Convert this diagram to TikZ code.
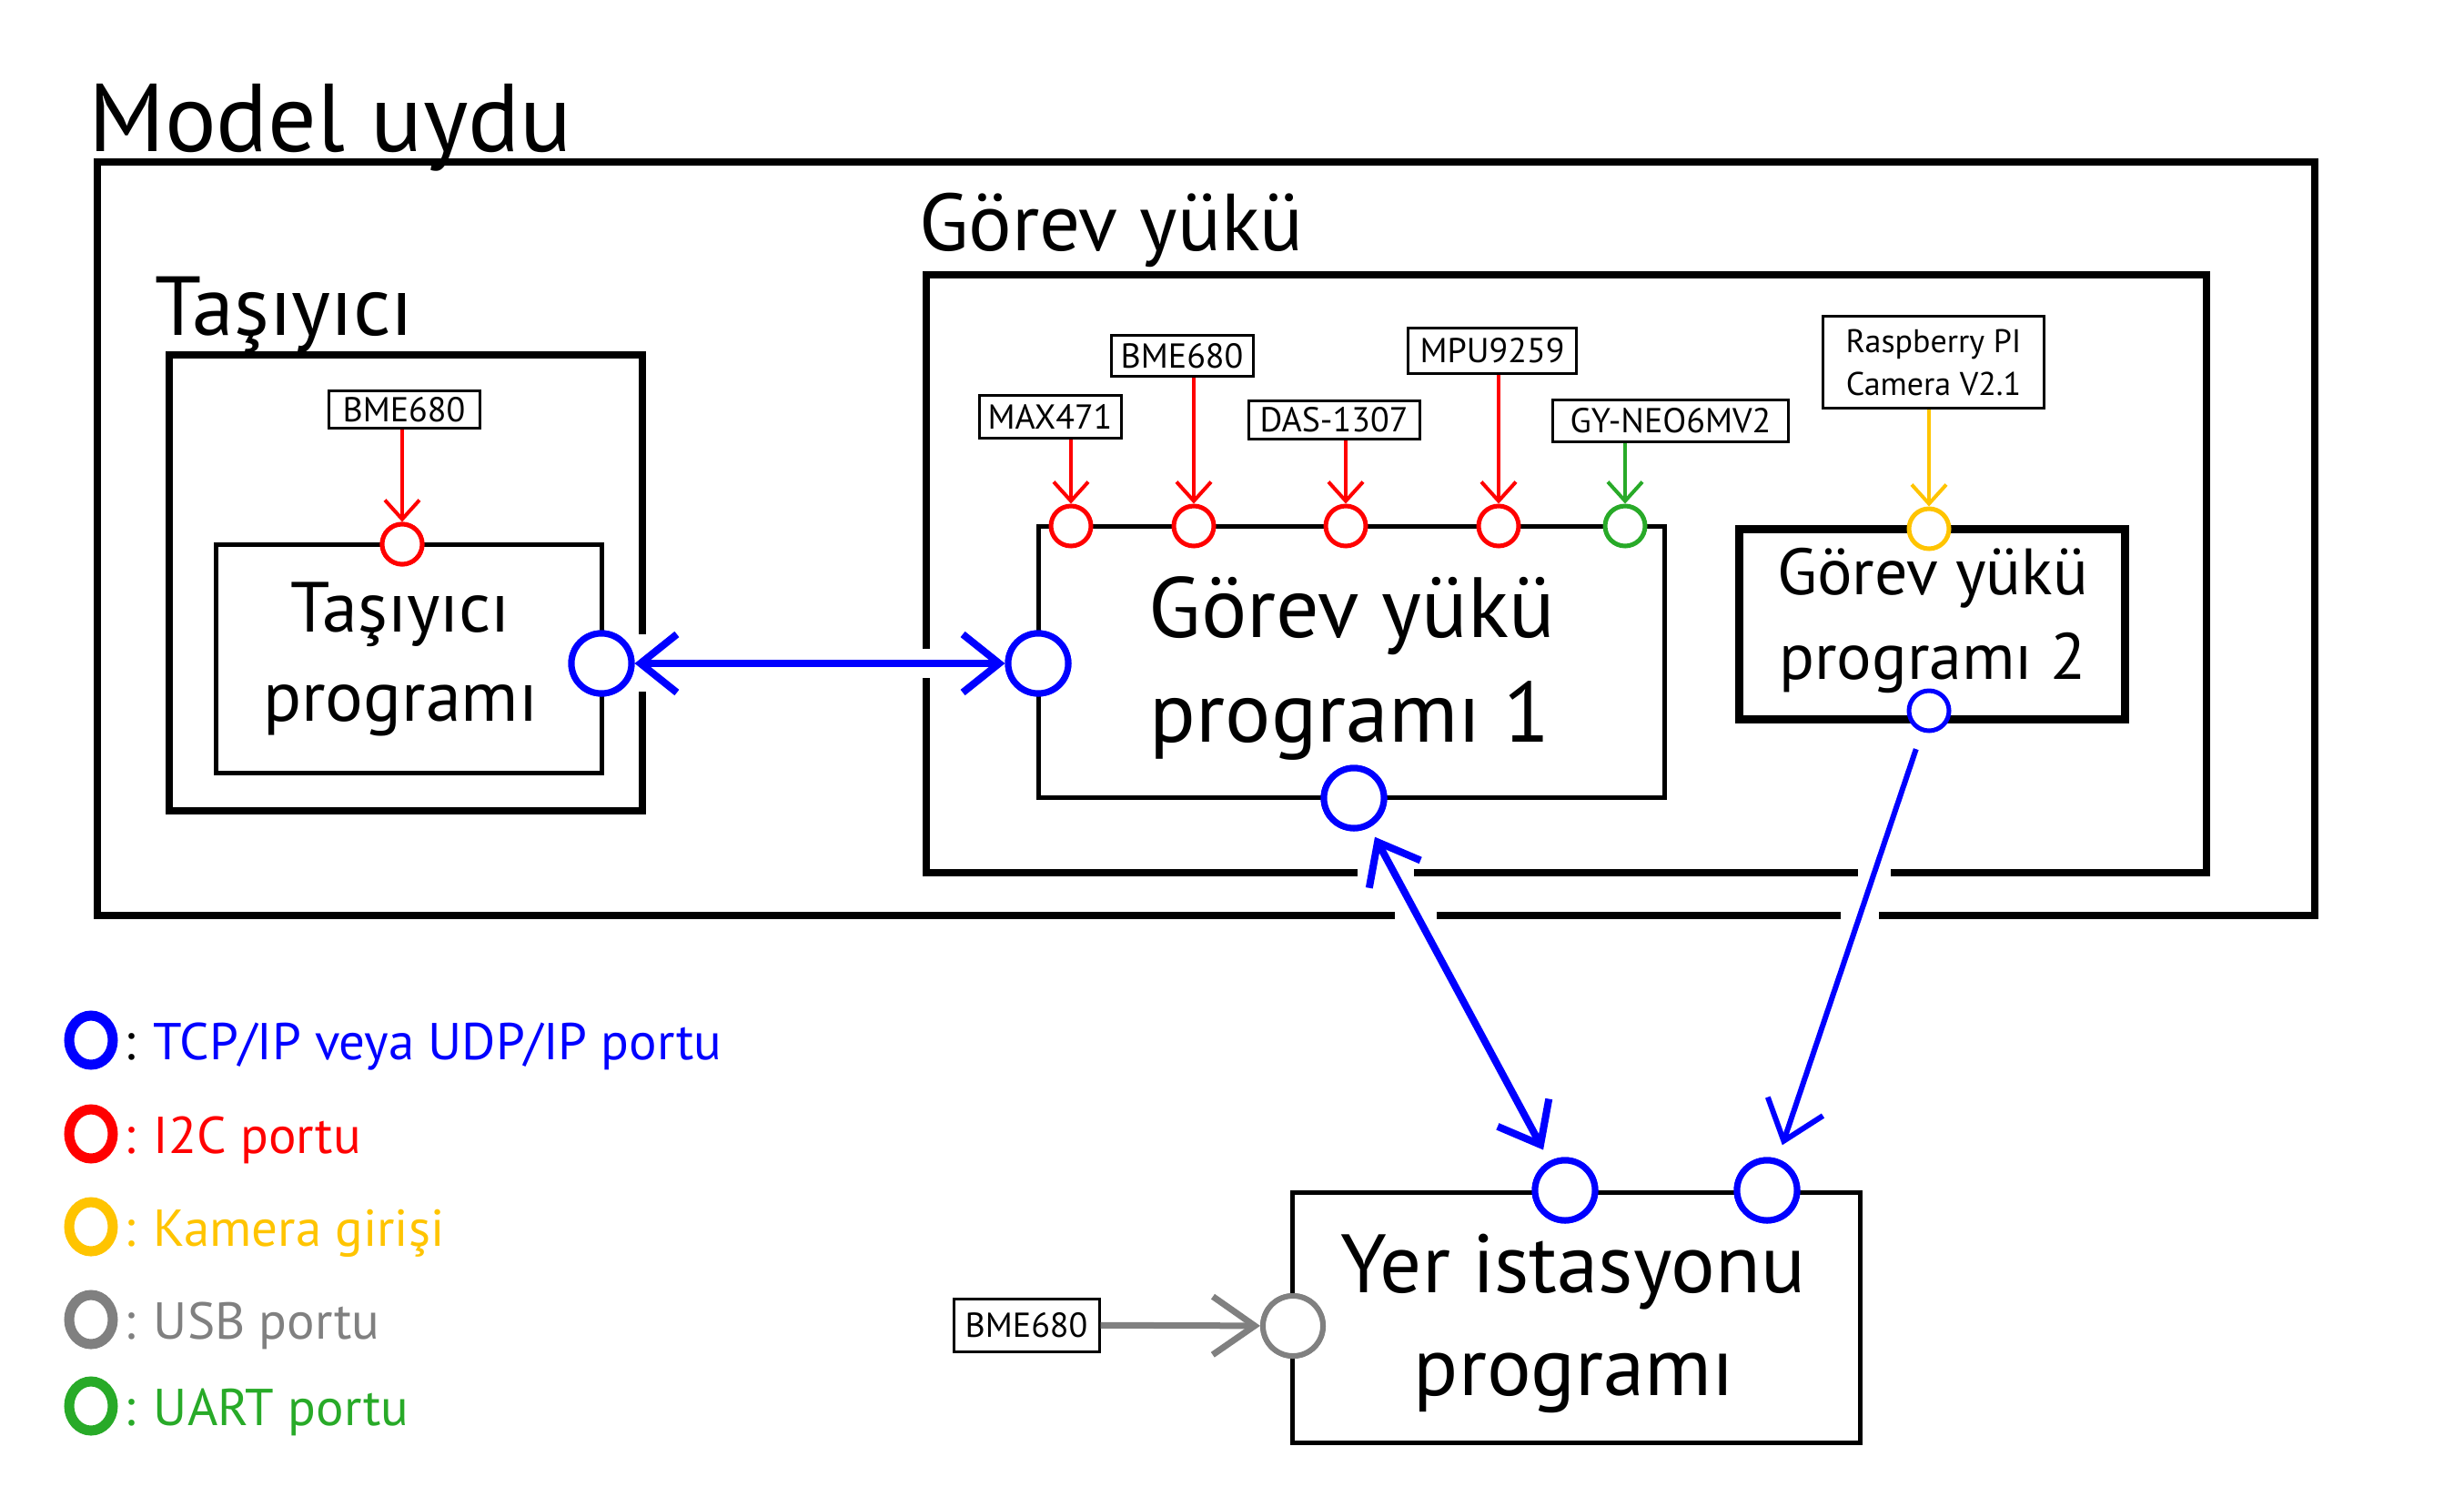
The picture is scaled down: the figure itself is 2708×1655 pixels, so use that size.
\documentclass[tikz,border=0pt]{standalone}
\usepackage{fontspec}
\setmainfont{PT Sans}
\usetikzlibrary{arrows.meta,calc,shapes.geometric}
\definecolor{cblue}{RGB}{0,0,255}
\definecolor{cred}{RGB}{255,0,0}
\definecolor{cyel}{RGB}{255,196,0}
\definecolor{cgray}{RGB}{128,128,128}
\definecolor{cgreen}{RGB}{40,170,40}
\newcommand{\fsz}[1]{\fontsize{#1}{#1}\selectfont}
\begin{document}
\begin{tikzpicture}[x=1pt,y=-1pt,
  Sb/.tip={Straight Barb[length=21pt,width=38pt]},
  Bb/.tip={Straight Barb[length=40pt,width=64pt]},
  Gb/.tip={Straight Barb[length=46pt,width=64pt]},
  frame/.style={draw, line width=8pt, line join=miter},
  progbox/.style={draw, line width=5pt, inner sep=0pt},
  sensor/.style={draw, line width=3pt, fill=white, inner sep=0pt, font=\fsz{38}},
  sport/.style={circle, draw, fill=white, inner sep=0pt, minimum size=44pt, line width=5pt},
  bport/.style={circle, draw, fill=white, inner sep=0pt, minimum size=66pt, line width=7pt},
  lgport/.style={ellipse, draw, inner sep=0pt, minimum width=48pt, minimum height=54pt, line width=11pt},
  lgtext/.style={anchor=base west, inner sep=0pt, font=\fsz{57}},
  title/.style={anchor=base west, inner sep=0pt},
  ptext/.style={anchor=base, inner sep=0pt},
  sens/.style={line width=4pt, -Sb},
  tcpline/.style={cblue, line width=8pt},
  gap/.style={fill=white}
]
\useasboundingbox (0,0) rectangle (2708,1655);

% titles
\node[title, font=\fsz{106}] (tmodel) at (97,166) {Model uydu};
\node[title, font=\fsz{92}] (ttas) at (170,368) {Taşıyıcı};
\node[title, font=\fsz{89}] (tgy) at (1010,275) {Görev yükü};

% frames
\draw[frame] (107,178) rectangle (2544,1006);
\draw[frame] (186,390) rectangle (706,891);
\draw[frame] (1018,302) rectangle (2425,959);

% program boxes
\node[progbox, minimum width=424pt, minimum height=251pt] (tprog) at (449,723.5) {};
\node[progbox, minimum width=688pt, minimum height=298pt] (p1) at (1485,727) {};
\node[progbox, line width=9pt, minimum width=424pt, minimum height=209pt] (p2) at (2123,685.5) {};
\node[progbox, minimum width=624pt, minimum height=275pt] (gs) at (1732,1447.5) {};

% program texts
\node[ptext, font=\fsz{78}] (tpa) at (440,694) {Taşıyıcı};
\node[ptext, font=\fsz{78}] (tpb) at (440,792) {programı};
\node[ptext, font=\fsz{94}] (p1a) at (1486,700) {Görev yükü};
\node[ptext, font=\fsz{94}] (p1b) at (1484,815) {programı 1};
\node[ptext, font=\fsz{72}] (p2a) at (2124,653) {Görev yükü};
\node[ptext, font=\fsz{72}] (p2b) at (2124,746) {programı 2};
\node[ptext, font=\fsz{91}] (gsa) at (1729,1420) {Yer istasyonu};
\node[ptext, font=\fsz{91}] (gsb) at (1730,1533) {programı};

% sensor labels
\node[sensor, minimum width=166pt, minimum height=41pt] (s0) at (444,450) {BME680};
\node[sensor, minimum width=156pt, minimum height=47pt] (s1) at (1154,458) {MAX471};
\node[sensor, minimum width=156pt, minimum height=45pt] (s2) at (1299,391) {BME680};
\node[sensor, minimum width=188pt, minimum height=42pt] (s3) at (1466,461) {DAS-1307};
\node[sensor, minimum width=185pt, minimum height=50pt] (s4) at (1640,385) {MPU9259};
\node[sensor, minimum width=259pt, minimum height=46pt] (s5) at (1836,462) {GY-NEO6MV2};
\node[sensor, minimum width=243pt, minimum height=101pt, align=center, font=\fontsize{36}{47}\selectfont] (s6) at (2125,398) {Raspberry PI\\Camera V2.1};
\node[sensor, minimum width=160pt, minimum height=58pt] (s7) at (1128,1456) {BME680};

% ports
\node[sport, draw=cred] (tI) at (442,598) {};
\node[bport, draw=cblue] (tT) at (661,729) {};
\node[sport, draw=cred] (q1) at (1177,578) {};
\node[sport, draw=cred] (q2) at (1312,578) {};
\node[sport, draw=cred] (q3) at (1479,578) {};
\node[sport, draw=cred] (q4) at (1647,578) {};
\node[sport, draw=cgreen] (q5) at (1786,578) {};
\node[bport, draw=cblue] (p1L) at (1141,729) {};
\node[bport, draw=cblue] (p1B) at (1488,877) {};
\node[sport, draw=cyel] (q6) at (2120,581) {};
\node[sport, draw=cblue] (p2B) at (2120,781) {};
\node[bport, draw=cblue] (g1) at (1720,1308) {};
\node[bport, draw=cblue] (g2) at (1942,1308) {};
\node[bport, draw=cgray, line width=6pt] (gU) at (1421,1457) {};

% gaps in the frames where connectors cross
\coordinate (xa) at (intersection of p1B--g1 and 0,959--100,959);
\coordinate (xb) at (intersection of p1B--g1 and 0,1006--100,1006);
\coordinate (xc) at (intersection of p2B--g2 and 0,959--100,959);
\coordinate (xd) at (intersection of p2B--g2 and 0,1006--100,1006);
\fill[gap] ($(xa)+(-40,-7)$) rectangle ($(xa)+(22,7)$);
\fill[gap] ($(xb)+(-24,-7)$) rectangle ($(xb)+(22,7)$);
\fill[gap] ($(xc)+(-18,-7)$) rectangle ($(xc)+(18,7)$);
\fill[gap] ($(xd)+(-21,-7)$) rectangle ($(xd)+(21,7)$);
\fill[gap] (700,697) rectangle (712,760);
\fill[gap] (1012,713) rectangle (1024,745);

% connectors
\draw[sens, cred] (s0.south -| tI) -- (tI);
\draw[sens, cred] (s1.south -| q1) -- (q1);
\draw[sens, cred] (s2.south -| q2) -- (q2);
\draw[sens, cred] (s3.south -| q3) -- (q3);
\draw[sens, cred] (s4.south -| q4) -- (q4);
\draw[sens, cgreen] (s5.south -| q5) -- (q5);
\draw[sens, cyel] (s6.south -| q6) -- (q6);
\draw[tcpline, Bb-Bb] (tT) -- (p1L);
\draw[tcpline, Bb-Bb, shorten <=12pt, shorten >=14pt] (p1B) -- (g1);
\draw[cblue, line width=6pt, -Bb, shorten <=20pt, shorten >=16pt] (p2B) -- (g2);
\draw[cgray, line width=7pt, -Gb] (s7) -- (gU);

% redraw ports on top
\node[sport, draw=cred] at (tI) {};
\node[bport, draw=cblue] at (tT) {};
\node[bport, draw=cblue] at (p1L) {};
\node[bport, draw=cblue] at (p1B) {};
\node[bport, draw=cblue] at (g1) {};
\node[bport, draw=cblue] at (g2) {};
\node[bport, draw=cgray, line width=6pt] at (gU) {};

% legend
\node[lgport, draw=cblue] (lb) at (100,1143) {};
\node[lgport, draw=cred] (lr) at (100,1246) {};
\node[lgport, draw=cyel] (ly) at (100,1348) {};
\node[lgport, draw=cgray] (lg) at (100,1450) {};
\node[lgport, draw=cgreen] (ln) at (100,1545) {};
\node[lgtext, text=cblue] (lbt) at (136,1164) {\textcolor{black}{:} TCP/IP veya UDP/IP portu};
\node[lgtext, text=cred] (lrt) at (136,1267) {: I2C portu};
\node[lgtext, text=cyel] (lyt) at (136,1369) {: Kamera girişi};
\node[lgtext, text=cgray] (lgt) at (136,1471) {: USB portu};
\node[lgtext, text=cgreen] (lnt) at (136,1566) {: UART portu};
\end{tikzpicture}
\end{document}
